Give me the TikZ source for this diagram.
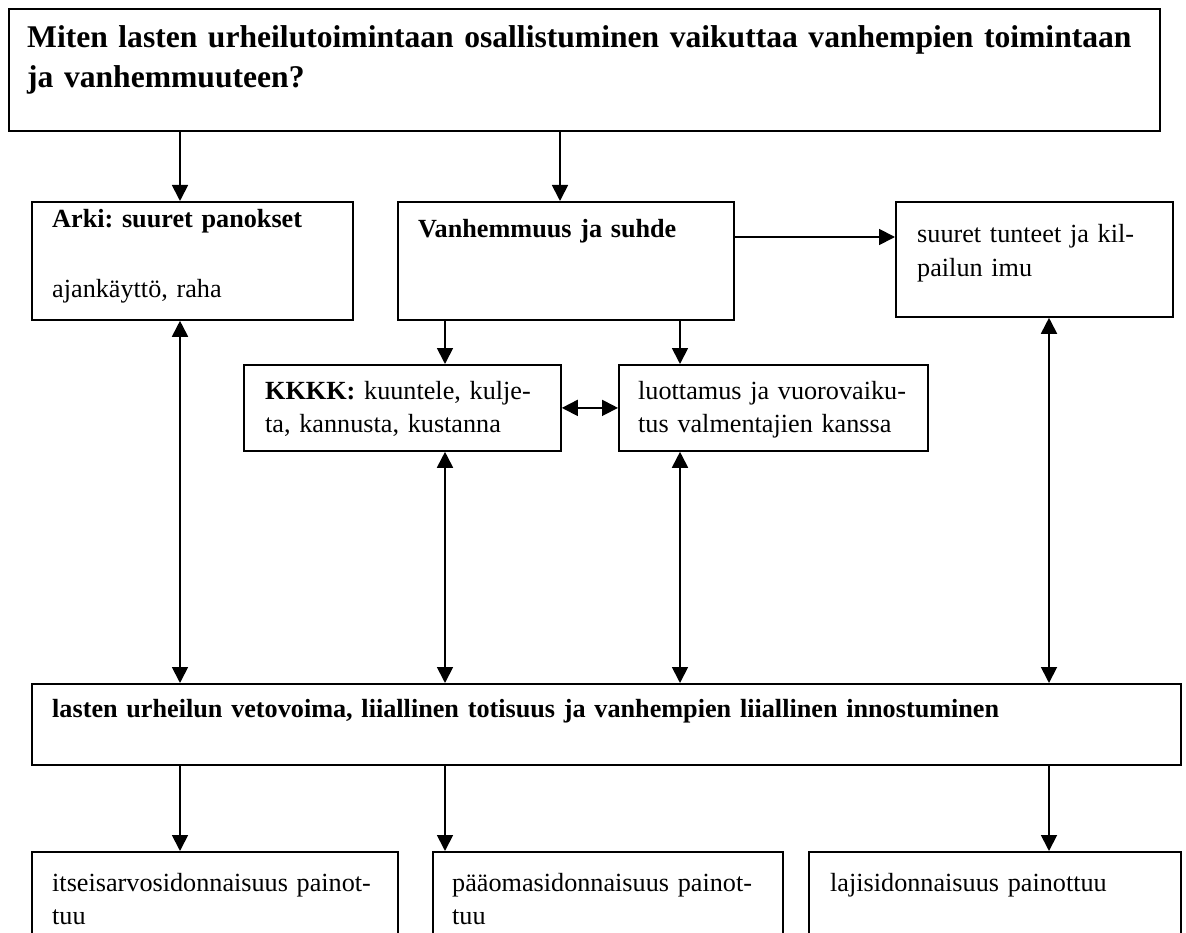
\documentclass[tikz,border=0pt]{standalone}
\usepackage{fontspec}
\setmainfont{Liberation Serif}
\usetikzlibrary{arrows.meta,positioning}
\frenchspacing

\tikzset{
    box/.style={draw, line width=1.8pt, rectangle, inner sep=0pt, anchor=north west},
    txt/.style={anchor=base west, inner sep=0pt, align=left, text width=#1,
        font=\fontsize{26.2}{33.5}\selectfont},
    txt/.default=340pt,
    kysymysfont/.style={font=\fontsize{31.6}{40}\selectfont\bfseries},
    kolmio/.style={line width=1.8pt, -{Triangle[length=16pt,width=16pt]}},
    tuplakolmio/.style={line width=1.8pt, {Triangle[length=16pt,width=16pt]}-{Triangle[length=16pt,width=16pt]}}
}

\begin{document}
\begin{tikzpicture}[x=1pt,y=-1pt]
    \useasboundingbox (0,0) rectangle (1186,933);
    \clip (0,0) rectangle (1186,933);

    % laatikot
    \node[box, minimum width=1151pt, minimum height=122pt] (kysymys) at (8,8) {};
    \node[box, minimum width=321pt, minimum height=118pt] (arki) at (31,201) {};
    \node[box, minimum width=336pt, minimum height=118pt] (vanhemmuus) at (397,201) {};
    \node[box, minimum width=277pt, minimum height=115pt] (tunteet) at (895,201) {};
    \node[box, minimum width=317pt, minimum height=86pt] (kkkk) at (243,364) {};
    \node[box, minimum width=309pt, minimum height=86pt] (luottamus) at (618,364) {};
    \node[box, minimum width=1149pt, minimum height=81pt] (vetovoima) at (31,683) {};
    \node[box, minimum width=366pt, minimum height=120pt] (itseisarvo) at (31,851) {};
    \node[box, minimum width=350pt, minimum height=120pt] (paaoma) at (432,851) {};
    \node[box, minimum width=372pt, minimum height=120pt] (laji) at (808,851) {};

    % tekstit
    \node[txt=1130pt, kysymysfont] (kysymysteksti) at (27,48)
        {Miten lasten urheilutoimintaan osallistuminen vaikuttaa vanhempien toimintaan\\ja vanhemmuuteen?};
    \node[txt] (arkiteksti) at (52,228) {\textbf{Arki: suuret panokset}\\[36pt]ajankäyttö, raha};
    \node[txt] (vanhemmuusteksti) at (418,238) {\textbf{Vanhemmuus ja suhde}};
    \node[txt=260pt] (tunteetteksti) at (917,243) {suuret tunteet ja kil-\\pailun imu};
    \node[txt=300pt] (kkkkteksti) at (265,399) {\textbf{KKKK:} kuuntele, kulje-\\ta, kannusta, kustanna};
    \node[txt=300pt] (luottamusteksti) at (638,399) {luottamus ja vuorovaiku-\\tus valmentajien kanssa};
    \node[txt=1120pt] (vetovoimateksti) at (52,717)
        {\textbf{lasten urheilun vetovoima, liiallinen totisuus ja vanhempien liiallinen innostuminen}};
    \node[txt] (itseisarvoteksti) at (52,891) {itseisarvosidonnaisuus painot-\\tuu};
    \node[txt] (paaomateksti) at (452,891) {pääomasidonnaisuus painot-\\tuu};
    \node[txt] (lajiteksti) at (830,891) {lajisidonnaisuus painottuu};

    % nuolet
    \coordinate (s1) at (180,0);
    \coordinate (s2) at (445,0);
    \coordinate (s3) at (560,0);
    \coordinate (s4) at (680,0);
    \coordinate (s5) at (1049,0);
    \coordinate (r1) at (0,237);

    \draw[kolmio] (kysymys.south -| s1) -- (arki.north -| s1);
    \draw[kolmio] (kysymys.south -| s3) -- (vanhemmuus.north -| s3);
    \draw[kolmio] (vanhemmuus.east |- r1) -- (tunteet.west |- r1);
    \draw[kolmio] (vanhemmuus.south -| s2) -- (kkkk.north -| s2);
    \draw[kolmio] (vanhemmuus.south -| s4) -- (luottamus.north -| s4);
    \draw[tuplakolmio] (kkkk.east) -- (luottamus.west);
    \draw[tuplakolmio] (arki.south -| s1) -- (vetovoima.north -| s1);
    \draw[tuplakolmio] (kkkk.south -| s2) -- (vetovoima.north -| s2);
    \draw[tuplakolmio] (luottamus.south -| s4) -- (vetovoima.north -| s4);
    \draw[tuplakolmio] (tunteet.south -| s5) -- (vetovoima.north -| s5);
    \draw[kolmio] (vetovoima.south -| s1) -- (itseisarvo.north -| s1);
    \draw[kolmio] (vetovoima.south -| s2) -- (paaoma.north -| s2);
    \draw[kolmio] (vetovoima.south -| s5) -- (laji.north -| s5);
\end{tikzpicture}
\end{document}
